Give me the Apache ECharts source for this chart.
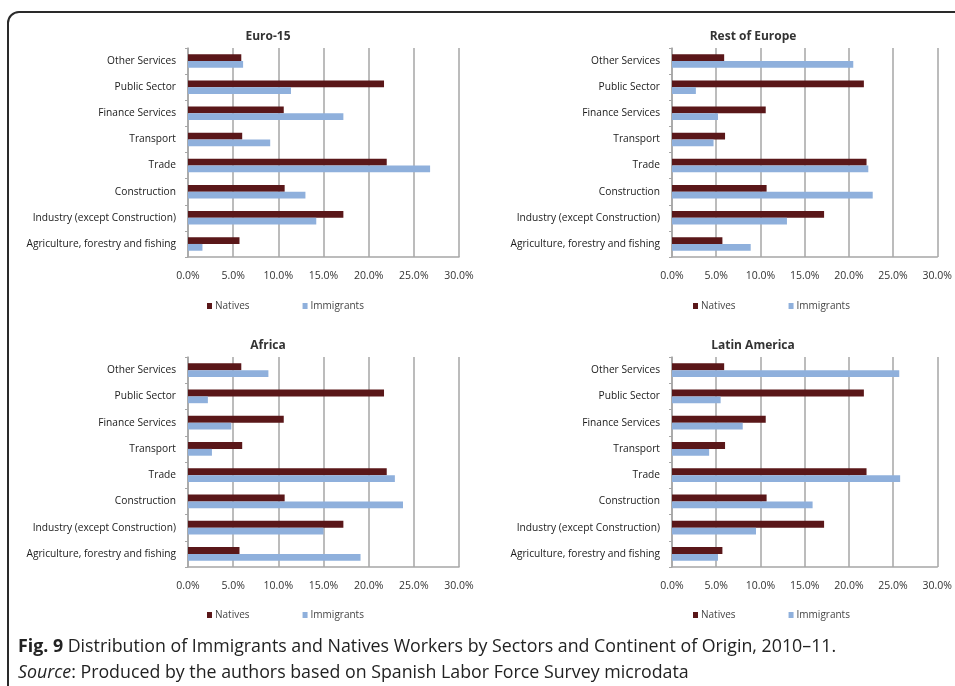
<!DOCTYPE html>
<html>
<head>
<meta charset="utf-8">
<script src="https://cdn.jsdelivr.net/npm/echarts@6/dist/echarts.min.js"></script>
<style>
html,body{margin:0;padding:0;background:#fff;}
#chart{width:955px;height:686px;}
</style>
</head>
<body>
<div id="chart"></div>
<script>
// Sectors, listed top to bottom as drawn
var sectors = ["Other Services", "Public Sector", "Finance Services", "Transport", "Trade", "Construction", "Industry (except Construction)", "Agriculture, forestry and fishing"];
var panelTitles = ["Euro-15", "Rest of Europe", "Africa", "Latin America"];
var xTicks = [0, 5, 10, 15, 20, 25, 30];

// Natives (same in every panel), percent
var natives = [5.9, 21.7, 10.6, 6.0, 22.0, 10.7, 17.2, 5.7];
// Immigrants by origin, percent
var immEuro15 = [6.1, 11.4, 17.2, 9.1, 26.8, 13.0, 14.2, 1.6];
var immRestEurope = [20.5, 2.7, 5.2, 4.7, 22.2, 22.7, 13.0, 8.9];
var immAfrica = [8.9, 2.2, 4.8, 2.65, 22.9, 23.8, 15.0, 19.1];
var immLatinAmerica = [25.7, 5.5, 8.0, 4.2, 25.8, 15.9, 9.5, 5.2];

var immigrantsByPanel = [immEuro15, immRestEurope, immAfrica, immLatinAmerica];

var NATIVE_COLOR = '#5a1719';
var IMM_COLOR = '#8fb0dc';
var LABEL_FONT = 'Open Sans';

var grids = [
  {left: 188, right: 496, top: 48, bottom: 429},
  {left: 672, right: 12, top: 48, bottom: 429},
  {left: 188, right: 496, top: 357, bottom: 119},
  {left: 672, right: 12, top: 357, bottom: 119}
];
var titlePos = [[263, 26], [748, 26], [263, 335], [748, 335]];
var legendPos = [[202, 296], [688, 296], [202, 605], [688, 605]];

var xAxes = [], yAxes = [], series = [], titles = [], legends = [];
for (var i = 0; i < 4; i++) {
  xAxes.push({
    gridIndex: i, type: 'value', min: 0, max: 30, interval: 5,
    axisLine: {show: true, lineStyle: {color: '#a6a6a6', width: 1.5}},
    axisTick: {show: false},
    splitLine: {show: true, lineStyle: {color: '#a6a6a6', width: 1.5}},
    axisLabel: {
      color: '#333', fontFamily: LABEL_FONT, fontSize: 10.5, margin: 14,
      formatter: function (v) { return v.toFixed(1) + '%'; }
    }
  });
  yAxes.push({
    gridIndex: i, type: 'category', data: sectors, inverse: true,
    axisLine: {show: true, lineStyle: {color: '#a6a6a6', width: 1.5}},
    axisTick: {show: true, length: 3, inside: false, lineStyle: {color: '#a6a6a6'}},
    axisLabel: {color: '#1a1a1a', fontFamily: LABEL_FONT, fontSize: 10.2, margin: 12}
  });
  series.push({
    name: 'Natives', type: 'bar', xAxisIndex: i, yAxisIndex: i,
    data: natives, barGap: '0%', barCategoryGap: '48%',
    itemStyle: {color: NATIVE_COLOR}, silent: true
  });
  series.push({
    name: 'Immigrants', type: 'bar', xAxisIndex: i, yAxisIndex: i,
    data: immigrantsByPanel[i], barGap: '0%', barCategoryGap: '48%',
    itemStyle: {color: IMM_COLOR}, silent: true
  });
  titles.push({
    text: panelTitles[i], left: titlePos[i][0], top: titlePos[i][1], textAlign: 'center',
    textStyle: {fontFamily: LABEL_FONT, fontSize: 12, fontWeight: 'bold', color: '#333'}
  });
  legends.push({
    data: ['Natives', 'Immigrants'], left: legendPos[i][0], top: legendPos[i][1],
    orient: 'horizontal', icon: 'rect', itemWidth: 5, itemHeight: 6, itemGap: 53,
    selectedMode: false,
    textStyle: {fontFamily: LABEL_FONT, fontSize: 10, color: '#444', padding: [0, 0, 0, -2]}
  });
}

var chart = echarts.init(document.getElementById('chart'), null, {renderer: 'canvas'});
chart.setOption({
  animation: false,
  backgroundColor: '#fff',
  title: titles,
  legend: legends,
  grid: grids,
  xAxis: xAxes,
  yAxis: yAxes,
  series: series,
  graphic: [
    {
      type: 'rect', silent: true,
      shape: {x: 8, y: 12, width: 1000, height: 720, r: 11},
      style: {fill: 'none', stroke: '#2a2a2a', lineWidth: 2}
    },
    {
      type: 'text', left: 18, top: 638, silent: true,
      style: {
        text: '{b|Fig. 9} Distribution of Immigrants and Natives Workers by Sectors and Continent of Origin, 2010\u201311.',
        fontFamily: 'Open Sans', fontSize: 17.8, fill: '#222',
        rich: {b: {fontFamily: 'Open Sans', fontSize: 17.8, fontWeight: 'bold', fill: '#222'}}
      }
    },
    {
      type: 'text', left: 18, top: 664, silent: true,
      style: {
        text: '{i|Source}: Produced by the authors based on Spanish Labor Force Survey microdata',
        fontFamily: 'Open Sans', fontSize: 17.8, fill: '#222',
        rich: {i: {fontFamily: 'Open Sans', fontSize: 17.8, fontStyle: 'italic', fill: '#222'}}
      }
    }
  ]
});
</script>
</body>
</html>
